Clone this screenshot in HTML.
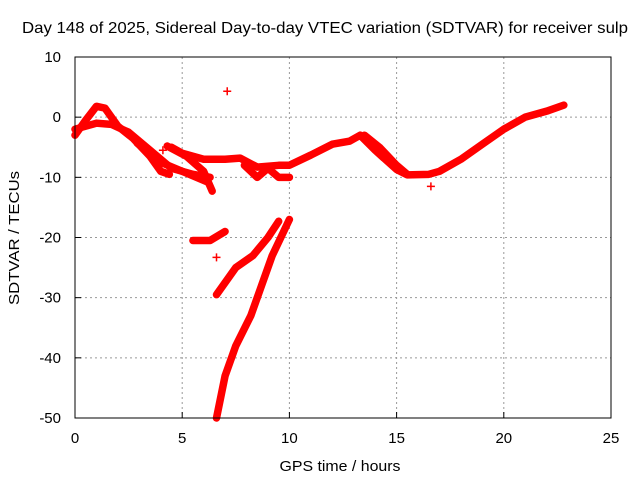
<!DOCTYPE html>
<html><head><meta charset="utf-8"><style>
body{margin:0;background:#fff}
svg text{font-family:"Liberation Sans",sans-serif;font-size:14px;fill:#000}
</style></head><body>
<svg id="c" width="640" height="480">
<text x="325" y="33" text-anchor="middle" textLength="606" lengthAdjust="spacingAndGlyphs" style="font-size:16px">Day 148 of 2025, Sidereal Day-to-day VTEC variation (SDTVAR) for receiver sulp</text>
<text x="340" y="471" text-anchor="middle" textLength="121" lengthAdjust="spacingAndGlyphs" style="font-size:15px">GPS time / hours</text>
<text transform="translate(19,238) rotate(-90)" text-anchor="middle" textLength="134" lengthAdjust="spacingAndGlyphs" style="font-size:15px">SDTVAR / TECUs</text>
<g id="grid"></g><g id="ticks"></g><g id="marks"></g>
<rect x="75" y="57" width="536" height="361" fill="none" stroke="#000"/>
</svg>
<script>
const xTicks=[0,5,10,15,20,25];
const yTicks=[-50,-40,-30,-20,-10,0,10];
const track1=[[0,-3],[0.5,-0.5],[1,1.8],[1.4,1.5],[2,-1.5],[2.7,-3.5],[3.5,-6.5],[4,-9],[4.4,-9.5]];
const track2=[[0,-2],[0.5,-1.5],[1,-1],[1.7,-1.2],[2.5,-2.5],[3.5,-5.5],[4.5,-8.5],[5.5,-9.5],[6.3,-10]];
const track3=[[2.9,-4.3],[4,-7.5],[5,-9],[6.2,-10.8]];
const track4=[[4.3,-4.8],[5.2,-6.5],[6,-9],[6.4,-12.3]];
const track5=[[4.5,-5],[5,-6],[6,-7],[7,-7],[7.7,-6.8],[8.5,-8.3],[9.5,-8],[10,-8],[11,-6.3],[12,-4.5],[12.8,-4],[13.3,-3],[14,-5.5],[15,-8.7],[15.5,-9.6],[16.5,-9.5],[17,-9],[18,-7],[19,-4.5],[20,-2],[21,0],[22,1],[22.8,2]];
const track6=[[13.5,-3],[14.2,-5],[15,-8],[15.5,-9.5]];
const track7=[[7.9,-8],[8.5,-10],[9,-8.5],[9.5,-10],[10,-10]];
const track8=[[5.5,-20.5],[6.3,-20.5],[7,-19]];
const track9=[[6.6,-29.5],[7.5,-25],[8.3,-23],[9,-20],[9.5,-17.3]];
const track10=[[6.6,-50],[7,-43],[7.5,-38],[8.2,-33],[8.7,-28],[9.2,-23],[10,-17]];
const tracks=[track1,track2,track3,track4,track5,track6,track7,track8,track9,track10];
const points=[[7.1,4.3],[4.1,-5.5],[6.6,-23.3],[16.6,-11.5]];
const NS='http://www.w3.org/2000/svg';
const X=h=>75+h*536/25, Y=v=>418-(v+50)*361/60;
function mk(t,a,p){const e=document.createElementNS(NS,t);for(const k in a)e.setAttribute(k,a[k]);p.appendChild(e);return e;}
const G=document.getElementById('grid'),T=document.getElementById('ticks'),M=document.getElementById('marks');
xTicks.forEach(h=>{
 if(h>0&&h<25){const l=mk('line',{x1:X(h),x2:X(h),y1:57,y2:418,stroke:'#999','stroke-dasharray':'2,3'},G);
 }
 const t=mk('text',{x:X(h),y:443,'text-anchor':'middle',style:'font-size:15px'},T);t.textContent=h;
 
 mk('line',{x1:X(h),x2:X(h),y1:418,y2:412,stroke:'#000'},T);
});
yTicks.forEach(v=>{
 if(v>-50&&v<10){const l=mk('line',{x1:75,x2:611,y1:Y(v),y2:Y(v),stroke:'#999','stroke-dasharray':'2,3'},G);
 }
 const t=mk('text',{x:61,y:Y(v)+5,'text-anchor':'end',style:'font-size:15px'},T);t.textContent=v;
 
 mk('line',{x1:75,x2:81,y1:Y(v),y2:Y(v),stroke:'#000'},T);
});
tracks.forEach(tr=>{
 const p=mk('polyline',{points:tr.map(d=>X(d[0])+','+Y(d[1])).join(' '),fill:'none',stroke:'#f00','stroke-width':7.5,'stroke-linejoin':'round','stroke-linecap':'round'},M);
 
 
});
points.forEach(d=>{
 const p=mk('path',{d:`M${X(d[0])-4},${Y(d[1])}h8M${X(d[0])},${Y(d[1])-4}v8`,stroke:'#f00','stroke-width':1.5},M);
 
 
});
</script>
</body></html>
